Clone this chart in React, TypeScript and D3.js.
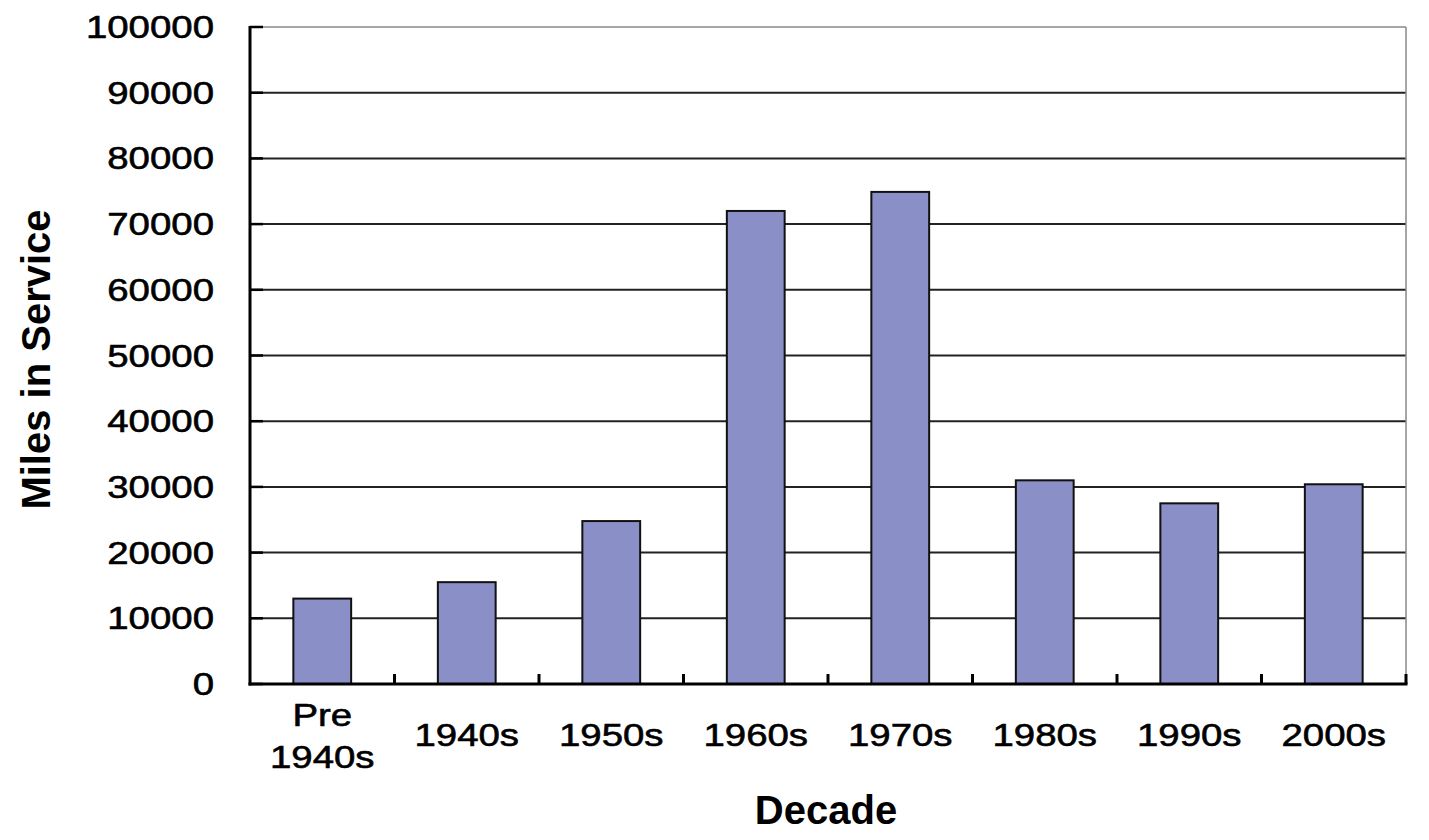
import React from "react";
import * as d3 from "d3";

const categories: string[][] = [["Pre", "1940s"], ["1940s"], ["1950s"], ["1960s"], ["1970s"], ["1980s"], ["1990s"], ["2000s"]];
const values: number[] = [13000, 15500, 24800, 72000, 74900, 31000, 27500, 30400];
const yTicks: number[] = [0, 10000, 20000, 30000, 40000, 50000, 60000, 70000, 80000, 90000, 100000];

const W = 1429;
const H = 840;
const left = 250;
const right = 1406;
const top = 27;
const bottom = 684;
const FONT = "'Liberation Sans', Arial, sans-serif";
const SX = 1.2;

export default function App() {
  const keys = categories.map((c) => c.join(" "));
  const x = d3.scaleBand<string>().domain(keys).range([left, right]).paddingInner(0.6).paddingOuter(0.3);
  const y = d3.scaleLinear().domain([0, 100000]).range([bottom, top]);
  const step = x.step();
  const bandStart = (i: number) => left + i * ((right - left) / keys.length);

  return (
    <svg width={W} height={H} style={{ position: "absolute", left: 0, top: 0, background: "#fff" }}>
      <rect x={0} y={0} width={W} height={H} fill="#fff" />
      {/* gridlines */}
      {yTicks.map((t) =>
        t === 0 ? null : (
          <line
            key={"g" + t}
            x1={left}
            x2={right}
            y1={y(t)}
            y2={y(t)}
            stroke={t === 100000 ? "#888" : "#222"}
            strokeWidth={t === 100000 ? 1.5 : 2}
          />
        )
      )}
      {/* right border */}
      <line x1={right} x2={right} y1={y(100000)} y2={bottom} stroke="#888" strokeWidth={1.5} />
      {/* bars */}
      {values.map((v, i) => (
        <rect
          key={"b" + i}
          x={x(keys[i])!}
          y={y(v)}
          width={x.bandwidth()}
          height={bottom - y(v)}
          fill="#8B8FC7"
          stroke="#111"
          strokeWidth={2}
        />
      ))}
      {/* y axis */}
      <line x1={left} x2={left} y1={y(100000) - 1} y2={bottom + 1.5} stroke="#000" strokeWidth={3} />
      {yTicks.map((t) => (
        <g key={"yt" + t}>
          <line x1={left} x2={left + 13} y1={y(t)} y2={y(t)} stroke="#000" strokeWidth={2.5} />
          <text
            transform={`translate(214,${y(t) + 11}) scale(${SX},1)`}
            textAnchor="end"
            fontFamily={FONT}
            fontSize={32}
            fill="#000"
            stroke="#000"
            strokeWidth={0.6}
          >
            {d3.format("d")(t)}
          </text>
        </g>
      ))}
      {/* x axis */}
      <line x1={left - 1.5} x2={right + 1.5} y1={bottom} y2={bottom} stroke="#000" strokeWidth={3} />
      {keys.map((k, i) => (
        <line
          key={"xt" + i}
          x1={bandStart(i + 1)}
          x2={bandStart(i + 1)}
          y1={bottom}
          y2={bottom - 10}
          stroke="#000"
          strokeWidth={3}
        />
      ))}
      {categories.map((lines, i) => {
        const cx = x(keys[i])! + x.bandwidth() / 2;
        const baselines = lines.length === 1 ? [746] : [726, 768];
        return lines.map((ln, j) => (
          <text
            key={"xl" + i + "-" + j}
            transform={`translate(${cx},${baselines[j]}) scale(${SX},1)`}
            textAnchor="middle"
            fontFamily={FONT}
            fontSize={32}
            fill="#000"
            stroke="#000"
            strokeWidth={0.6}
          >
            {ln}
          </text>
        ));
      })}
      {/* axis titles */}
      <text x={826} y={824} textAnchor="middle" fontFamily={FONT} fontSize={40} fontWeight="bold" fill="#000">
        Decade
      </text>
      <text
        transform={`translate(50,${(207 + 512) / 2}) rotate(-90)`}
        textAnchor="middle"
        fontFamily={FONT}
        fontSize={40}
        fontWeight="bold"
        fill="#000"
      >
        Miles in Service
      </text>
    </svg>
  );
}
